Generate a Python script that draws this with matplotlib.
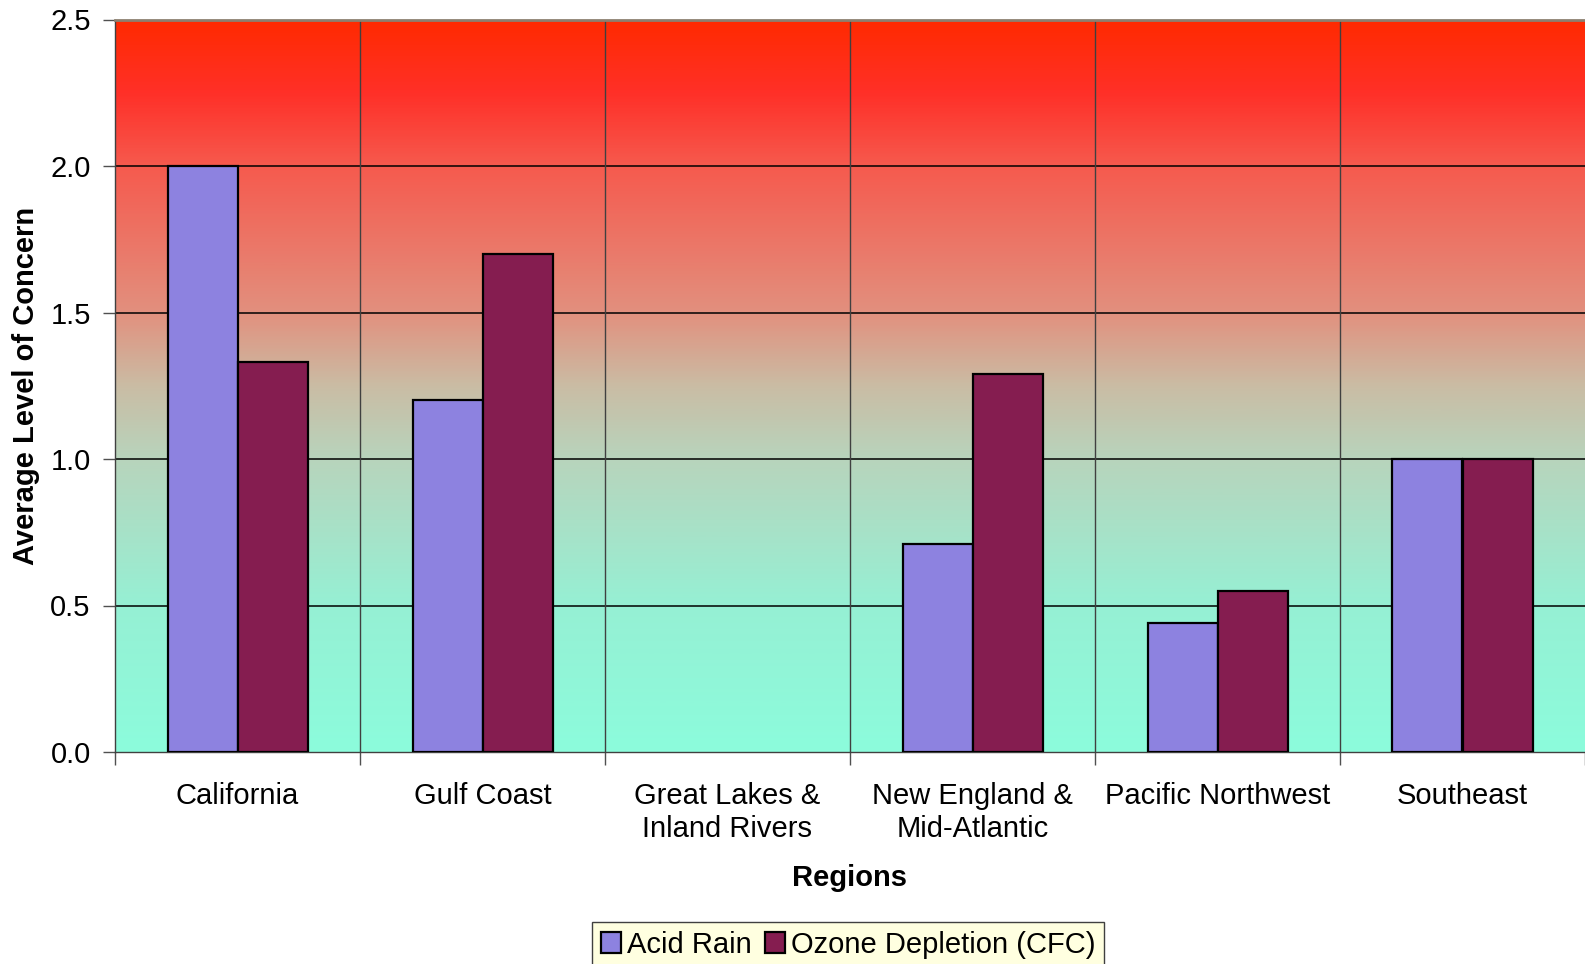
import matplotlib
matplotlib.use('Agg')
import matplotlib.pyplot as plt
import numpy as np
from matplotlib.colors import LinearSegmentedColormap
from matplotlib.patches import Patch

plt.rcParams['font.family'] = ['Liberation Sans', 'DejaVu Sans']

# Data
regions = ['California', 'Gulf Coast', 'Great Lakes &\nInland Rivers',
           'New England &\nMid-Atlantic', 'Pacific Northwest', 'Southeast']
acid_rain = [2.0, 1.2, 0.0, 0.71, 0.44, 1.0]
ozone_cfc = [1.33, 1.7, 0.0, 1.29, 0.55, 1.0]
series_names = ['Acid Rain', 'Ozone Depletion (CFC)']
series_colors = ['#8D82E0', '#851D50']
y_ticks = [0.0, 0.5, 1.0, 1.5, 2.0, 2.5]

fig = plt.figure(figsize=(15.85, 9.64), dpi=100)
ax = fig.add_axes([115 / 1585, 1 - 752 / 964, 1 - 115 / 1585, (752 - 19.5) / 964])

# Background gradient (aqua at bottom to red at top)
stops = [(0.0, '#8CFCDC'), (0.2, '#96F0D4'), (0.4, '#B8D4BC'), (0.5, '#CABCA4'),
         (0.6, '#E2907E'), (0.8, '#F65A4E'), (0.9, '#FF3028'), (1.0, '#FF2A00')]
cmap = LinearSegmentedColormap.from_list('bg', stops)
grad = np.linspace(0, 1, 512).reshape(-1, 1)
ax.imshow(grad, cmap=cmap, origin='lower', extent=[0, 1, 0, 1],
          transform=ax.transAxes, aspect='auto', zorder=0)

x = np.arange(len(regions))
w = 1 / 3.5
for vals, offset, color in [(acid_rain, -w / 2, series_colors[0]),
                            (ozone_cfc, w / 2, series_colors[1])]:
    vals = np.array(vals)
    keep = vals > 0  # empty categories draw nothing
    ax.bar(x[keep] + offset, vals[keep], w, color=color, edgecolor='black',
           linewidth=1.6, zorder=3)

ax.set_xlim(-0.5, len(regions) - 0.5)
ax.set_ylim(0, 2.5)

# Gridlines
for yv in y_ticks[1:-1]:
    ax.axhline(yv, color='black', linewidth=1.1, zorder=1)
for xb in np.arange(0.5, len(regions) - 0.5, 1):
    ax.axvline(xb, color='#404040', linewidth=1.0, zorder=1)

ax.set_yticks(y_ticks)
ax.set_yticklabels([f'{v:.1f}' for v in y_ticks], fontsize=21)
ax.set_xticks(np.arange(-0.5, len(regions), 1))
ax.set_xticklabels([])
ax.set_xticks(x, minor=True)
ax.set_xticklabels(regions, minor=True, fontsize=21, linespacing=1.25)
ax.tick_params(axis='x', which='minor', length=0, pad=21.5)
ax.tick_params(axis='x', which='major', length=9, color='#505050', width=1)
ax.tick_params(axis='y', length=9, color='#505050', width=1, pad=8.5)

for side in ['left', 'bottom']:
    ax.spines[side].set_color('#404040')
    ax.spines[side].set_linewidth(1.0)
ax.spines['top'].set_color('#8C8070')
ax.spines['top'].set_linewidth(2.0)
ax.spines['right'].set_visible(False)

ax.set_xlabel('Regions', fontsize=21, fontweight='bold', labelpad=15)
ax.set_ylabel('Average Level of Concern', fontsize=21, fontweight='bold', labelpad=7)

handles = [Patch(facecolor=c, edgecolor='black', linewidth=1.6) for c in series_colors]
leg = fig.legend(handles, series_names, loc='upper center', ncol=2,
                 bbox_to_anchor=(848 / 1585, 1 - 922 / 964), fontsize=21,
                 frameon=True, fancybox=False, borderpad=0.3, handlelength=0.7,
                 handleheight=0.7, handletextpad=0.2, columnspacing=0.45,
                 borderaxespad=0)
leg.get_frame().set_facecolor('#FFFFE0')
leg.get_frame().set_edgecolor('#404040')
leg.get_frame().set_linewidth(1.0)
leg.get_frame().set_alpha(1)

fig.savefig('out.png', dpi=100)
